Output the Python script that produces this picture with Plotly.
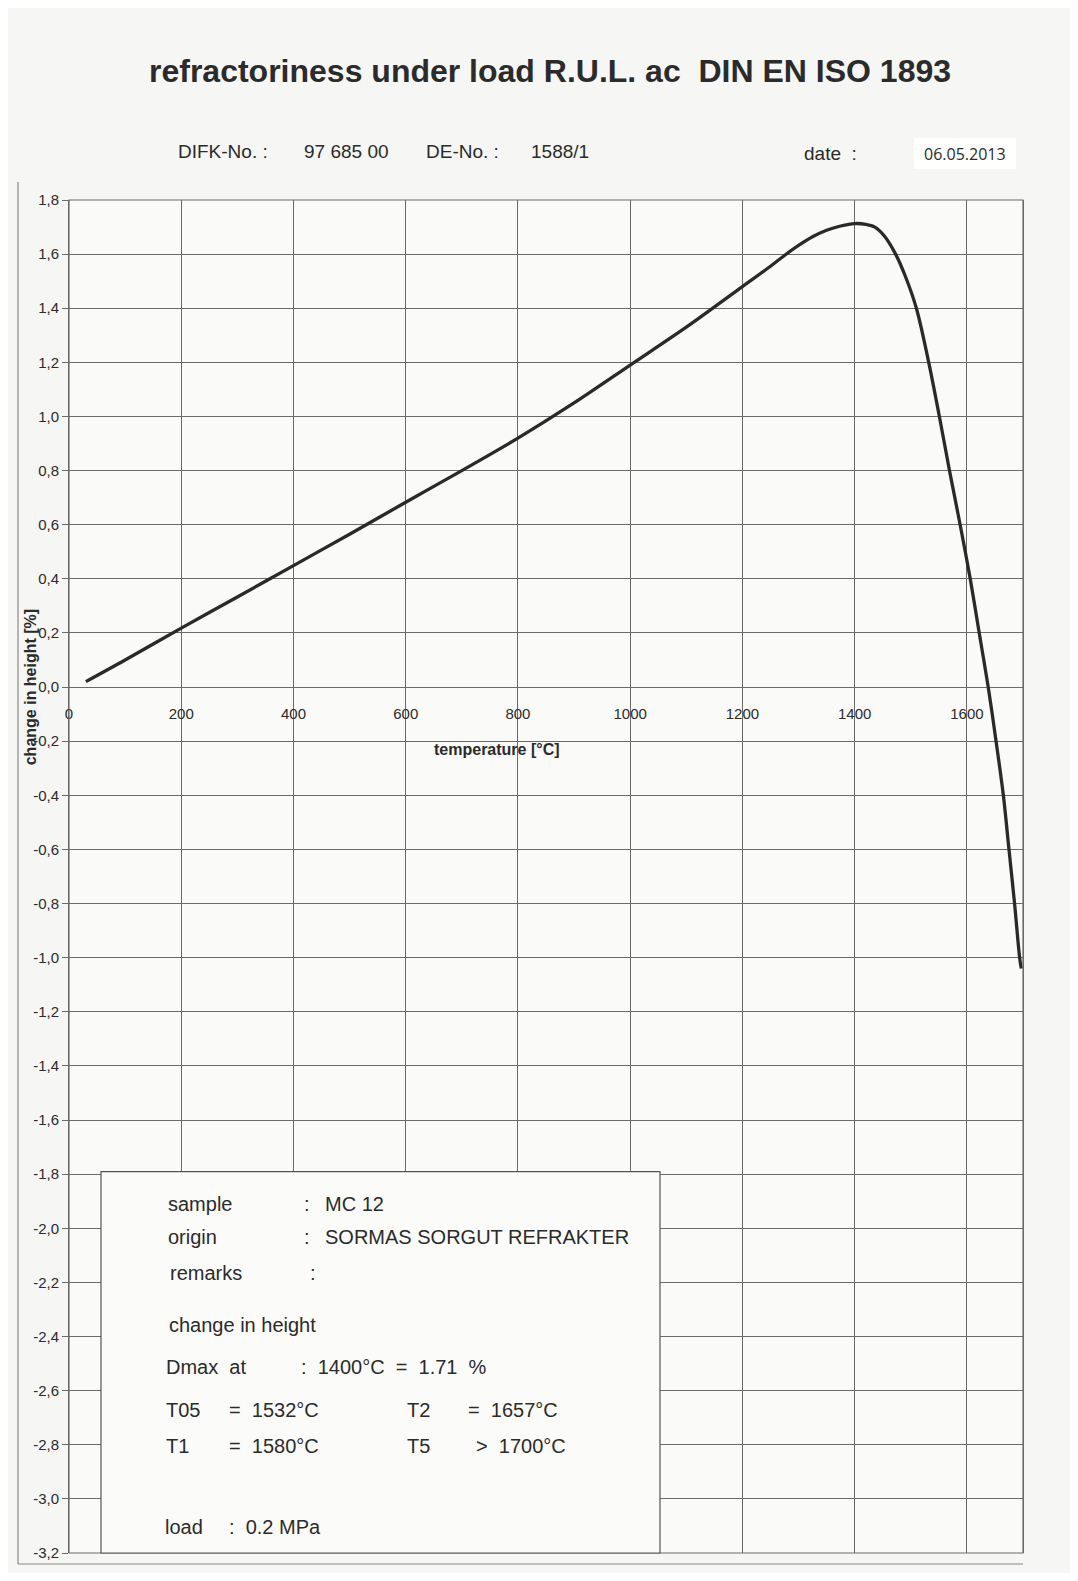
import plotly.graph_objects as go

# ---------------- data ----------------
temperature = [30, 100, 200, 300, 400, 500, 600, 700, 800, 900, 1000, 1100, 1200, 1250,
               1275, 1300, 1325, 1350, 1375, 1400, 1420, 1436, 1453, 1473, 1490, 1510,
               1532, 1551, 1569, 1588, 1606, 1622, 1638, 1652, 1665, 1675, 1685, 1694, 1697]
change_in_height = [0.02, 0.10, 0.218, 0.333, 0.449, 0.565, 0.683, 0.80, 0.92, 1.05, 1.19,
                    1.33, 1.48, 1.555, 1.595, 1.632, 1.664, 1.688, 1.704, 1.713, 1.71, 1.70,
                    1.667, 1.60, 1.52, 1.40, 1.20, 1.00, 0.80, 0.60, 0.40, 0.20, 0.00, -0.20,
                    -0.40, -0.60, -0.80, -1.00, -1.04]

x_tick_values = [0, 200, 400, 600, 800, 1000, 1200, 1400, 1600]
x_tick_labels = ["0", "200", "400", "600", "800", "1000", "1200", "1400", "1600"]
y_tick_values = [1.8, 1.6, 1.4, 1.2, 1.0, 0.8, 0.6, 0.4, 0.2, 0.0, -0.2, -0.4, -0.6, -0.8,
                 -1.0, -1.2, -1.4, -1.6, -1.8, -2.0, -2.2, -2.4, -2.6, -2.8, -3.0, -3.2]
y_tick_labels = ["1,8", "1,6", "1,4", "1,2", "1,0", "0,8", "0,6", "0,4", "0,2", "0,0",
                 "-0,2", "-0,4", "-0,6", "-0,8", "-1,0", "-1,2", "-1,4", "-1,6", "-1,8",
                 "-2,0", "-2,2", "-2,4", "-2,6", "-2,8", "-3,0", "-3,2"]

# ---------------- layout helpers ----------------
PAGE_MARGIN = 8                      # default body margin of the html page
W, H = 1078 - 2 * PAGE_MARGIN, 1581 - 2 * PAGE_MARGIN
# plot area in screen pixels
L, R, T, B = 69, 1023, 200, 1555
X_MIN, X_MAX = 0, 1700
Y_MIN, Y_MAX = -3.2, 1.8


def px(x):
    return (x - L) / (R - L)


def py(y):
    return (B - y) / (B - T)


FONT = "Liberation Sans, Arial, sans-serif"
GRID = "#6a6a6a"
TXT = "#2b2b2b"

fig = go.Figure()
fig.add_trace(go.Scatter(
    x=temperature, y=change_in_height, mode="lines",
    line=dict(color="#2a2a2a", width=3.3, shape="spline", smoothing=0.9),
    showlegend=False, hoverinfo="skip"))

zero_pos = (0 - Y_MIN) / (Y_MAX - Y_MIN)

fig.update_layout(
    width=W, height=H,
    margin=dict(l=L - PAGE_MARGIN, r=W - (R - PAGE_MARGIN), t=T - PAGE_MARGIN,
                b=H - (B - PAGE_MARGIN), pad=0),
    paper_bgcolor="#f6f6f4",
    plot_bgcolor="#fafaf8",
    showlegend=False,
    xaxis=dict(
        range=[X_MIN, X_MAX], tickvals=x_tick_values, ticktext=x_tick_labels,
        showgrid=True, gridcolor=GRID, gridwidth=1, zeroline=False, showline=False,
        ticks="", anchor="free", position=zero_pos, side="bottom",
        ticklabelstandoff=16,
        tickfont=dict(family=FONT, size=15, color=TXT),
    ),
    yaxis=dict(
        range=[Y_MIN, Y_MAX], tickvals=y_tick_values, ticktext=y_tick_labels,
        showgrid=True, gridcolor=GRID, gridwidth=1, zeroline=False,
        showline=True, linecolor=GRID, linewidth=1, mirror=True,
        ticks="outside", ticklen=6, tickcolor=GRID,
        tickfont=dict(family=FONT, size=15, color=TXT),
    ),
)

shapes = [
    # plot border
    dict(type="rect", xref="paper", yref="paper", x0=0, x1=1, y0=0, y1=1,
         line=dict(color=GRID, width=1.2), layer="above"),
    # outer frame (left and bottom)
    dict(type="line", xref="paper", yref="paper", x0=px(18), x1=px(18), y0=py(182), y1=py(1566),
         line=dict(color="#8a8a8a", width=1.2)),
    dict(type="line", xref="paper", yref="paper", x0=px(18), x1=px(1023), y0=py(1566), y1=py(1566),
         line=dict(color="#8a8a8a", width=1.2)),
    # info box
    dict(type="rect", xref="paper", yref="paper", x0=px(101), x1=px(660), y0=0, y1=py(1173),
         fillcolor="#fbfbfa", line=dict(color="#555555", width=1.2), layer="above"),
    # date box
    dict(type="rect", xref="paper", yref="paper", x0=px(914), x1=px(1016), y0=py(169), y1=py(138),
         fillcolor="#ffffff", line=dict(width=0), layer="above"),
]
fig.update_layout(shapes=shapes)

ann = []


def text(x, y, s, size=18, family=FONT, bold=False, xanchor="left", angle=0):
    if bold:
        s = "<b>" + s + "</b>"
    ann.append(dict(xref="paper", yref="paper", x=px(x), y=py(y), text=s, showarrow=False,
                    xanchor=xanchor, yanchor="middle", textangle=angle,
                    font=dict(family=family, size=size, color=TXT)))


# header
text(550, 71, "refractoriness under load R.U.L. ac  DIN EN ISO 1893", size=32, bold=True,
     xanchor="center")
text(176, 151, "DIFK-No. :", size=19)
text(302, 151, "97 685 00", size=19)
text(424, 151, "DE-No. :", size=19)
text(529, 151, "1588/1", size=19)
text(802, 153, "date  :", size=19)
text(965, 154, "06.05.2013", size=16, family="Open Sans, Lato, sans-serif", xanchor="center")

# axis titles
text(497, 750, "temperature [°C]", size=16, bold=True, xanchor="center")
text(30, 688, "change in height [%]", size=16, bold=True, xanchor="center", angle=-90)

# info box content
rows = [
    (1205, [(166, "sample"), (302, ":"), (323, "MC 12")]),
    (1239, [(166, "origin"), (302, ":"), (323, "SORMAS SORGUT REFRAKTER")]),
    (1275, [(168, "remarks"), (308, ":")]),
    (1327, [(167, "change in height")]),
    (1369, [(164, "Dmax  at"), (299, ":  1400°C  =  1.71  %")]),
    (1412, [(164, "T05"), (227, "=  1532°C"), (405, "T2"), (466, "=  1657°C")]),
    (1448, [(164, "T1"), (227, "=  1580°C"), (405, "T5"), (474, ">  1700°C")]),
    (1529, [(163, "load"), (227, ":  0.2 MPa")]),
]
for y, items in rows:
    for x, s in items:
        text(x, y, s, size=20)

fig.update_layout(annotations=ann)
fig.write_html("out.html")
